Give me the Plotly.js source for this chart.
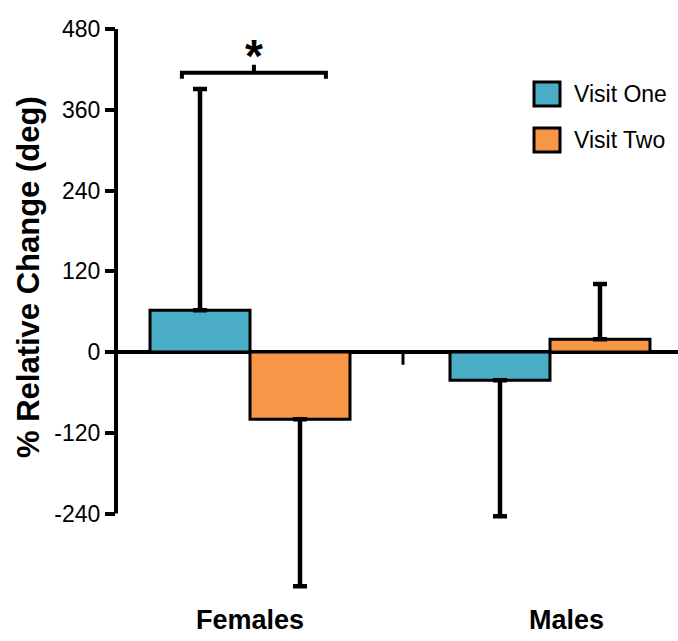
<!DOCTYPE html>
<html>
<head>
<meta charset="utf-8">
<script src="https://cdn.plot.ly/plotly-3.0.1.min.js"></script>
<style>
  html, body { margin: 0; padding: 0; background: #fff; }
  #chart { width: 678px; height: 641px; }
</style>
</head>
<body>
<div id="chart"></div>
<script>
// Groups and series
const groups = ['Females', 'Males'];
const visitOne = [62, -42];
const visitTwo = [-100, 19];
// One-sided error bars (SD)
const visitOneUp = [329, 0];
const visitOneDown = [0, 202];
const visitTwoUp = [0, 82];
const visitTwoDown = [248, 0];
const yTicks = [480, 360, 240, 120, 0, -120, -240];
const seriesNames = ['Visit One', 'Visit Two'];

const TEAL = '#4BACC6';
const ORANGE = '#F79646';
const FONT = 'Liberation Sans, Arial, sans-serif';

// plot area in pixels
const L = 116, T = 29, W = 562, H = 572;
const px = x => (x - L) / W;          // pixel x -> paper
const py = y => (T + H - y) / H;      // pixel y -> paper

function bars(name, vals, up, down, color) {
  return {
    type: 'bar', name: name, x: groups, y: vals,
    marker: { color: color, line: { color: '#000', width: 3 } },
    error_y: { type: 'data', symmetric: false, array: up, arrayminus: down,
               color: '#000', thickness: 4.5, width: 7 },
    showlegend: false
  };
}

const data = [
  bars(seriesNames[0], visitOne, visitOneUp, visitOneDown, TEAL),
  bars(seriesNames[1], visitTwo, visitTwoUp, visitTwoDown, ORANGE)
];

// legend swatches and labels
const legendRows = [
  { y: 94, color: TEAL, text: seriesNames[0] },
  { y: 140, color: ORANGE, text: seriesNames[1] }
];

const shapes = [
  // y axis line, from -240 up to 480
  { type: 'line', xref: 'paper', yref: 'y', x0: 0, x1: 0, y0: -240, y1: 480,
    line: { color: '#000', width: 4 } },
  // tick between the two groups
  { type: 'line', xref: 'x', yref: 'y', x0: 0.51, x1: 0.51, y0: 0, y1: -19,
    line: { color: '#000', width: 3 } },
  // significance bracket over Females
  { type: 'path', xref: 'x', yref: 'y',
    path: 'M -0.227,406 L -0.227,415 L 0.253,415 L 0.253,406 M 0.013,415 L 0.013,427',
    line: { color: '#000', width: 4 } }
];
const annotations = [
  { xref: 'x', yref: 'y', x: 0.013, y: 440, text: '<b>*</b>', showarrow: false,
    font: { family: FONT, size: 46, color: '#000' }, xanchor: 'center', yanchor: 'middle' },
  { xref: 'paper', yref: 'paper', x: px(28), y: py(277), text: '<b>% Relative Change (deg)</b>',
    textangle: -90, showarrow: false, xanchor: 'center', yanchor: 'middle',
    font: { family: FONT, size: 31, color: '#000' } }
];
// group labels under the plot
const labelShift = [0, 17];
groups.forEach((g, i) => {
  annotations.push({ xref: 'x', yref: 'paper', x: i, y: py(620), xshift: labelShift[i],
    text: '<b>' + g + '</b>', showarrow: false, xanchor: 'center', yanchor: 'middle',
    font: { family: FONT, size: 27, color: '#000' } });
});
legendRows.forEach(r => {
  shapes.push({ type: 'rect', xref: 'paper', yref: 'paper',
    x0: px(534), x1: px(560), y0: py(r.y - 12), y1: py(r.y + 12),
    fillcolor: r.color, line: { color: '#000', width: 3 } });
  annotations.push({ xref: 'paper', yref: 'paper', x: px(572), y: py(r.y),
    text: r.text, showarrow: false, xanchor: 'left', yanchor: 'middle',
    font: { family: FONT, size: 23, color: '#000' } });
});

const layout = {
  width: 678, height: 641,
  margin: { l: L, r: 678 - L - W, t: T, b: 641 - T - H, pad: 0 },
  paper_bgcolor: '#fff', plot_bgcolor: '#fff',
  barmode: 'group', bargap: 1 / 3, bargroupgap: 0,
  showlegend: false,
  xaxis: {
    type: 'category', range: [-0.4467, 1.4267],
    showgrid: false, zeroline: false, showline: false, ticks: '',
    showticklabels: false
  },
  yaxis: {
    range: [-370, 480], tickvals: yTicks, ticktext: yTicks.map(String),
    showgrid: false, showline: false,
    zeroline: true, zerolinecolor: '#000', zerolinewidth: 4,
    ticks: 'outside', ticklen: 10, tickwidth: 4, tickcolor: '#000',
    tickfont: { family: FONT, size: 23, color: '#000' }
  },
  shapes: shapes,
  annotations: annotations
};

Plotly.newPlot('chart', data, layout, { staticPlot: true });
</script>
</body>
</html>
